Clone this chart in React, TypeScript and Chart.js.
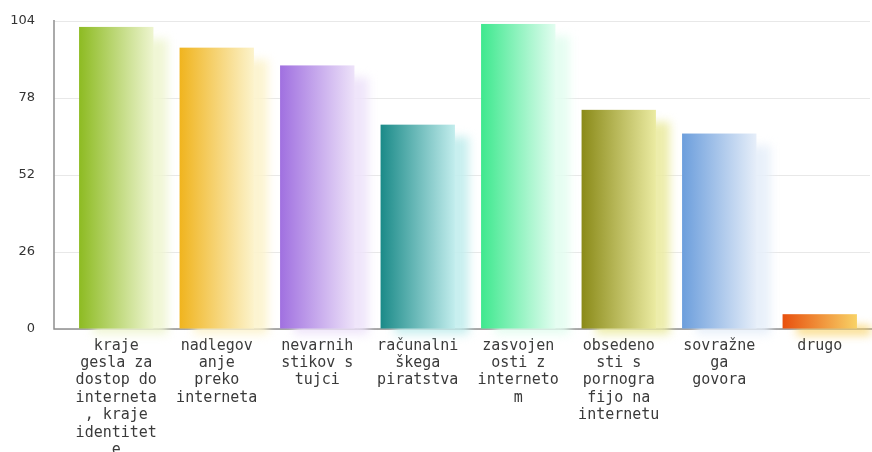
import React, { useEffect, useRef } from "react";
import { Chart, registerables } from "chart.js";

Chart.register(...registerables);

const categories: string[][] = [
  ["kraje", "gesla za", "dostop do", "interneta", ", kraje", "identitet", "e"],
  ["nadlegov", "anje", "preko", "interneta"],
  ["nevarnih", "stikov s", "tujci"],
  ["računalni", "škega", "piratstva"],
  ["zasvojen", "osti z", "interneto", "m"],
  ["obsedeno", "sti s", "pornogra", "fijo na", "internetu"],
  ["sovražne", "ga", "govora"],
  ["drugo"],
];
const values: number[] = [102, 95, 89, 69, 103, 74, 66, 5];
const darkColors: string[] = ["#8dbb22", "#f0b41e", "#a070e0", "#1a8a88", "#3ee88e", "#8a8a18", "#6c9edc", "#e8500e"];
const lightColors: string[] = ["#eef5d0", "#fcf3cc", "#ede2f9", "#c2eded", "#e2fdf0", "#ebeba2", "#e6eef9", "#f8d266"];
const yTicks: number[] = [0, 26, 52, 78, 104];

const barPainter = {
  id: "barPainter",
  beforeDatasetsDraw(chart: any) {
    const ctx = chart.ctx;
    const area = chart.chartArea;
    ctx.save();
    ctx.strokeStyle = "#8e8e8e";
    ctx.lineWidth = 1.5;
    ctx.beginPath();
    ctx.moveTo(54, area.top - 1);
    ctx.lineTo(54, area.bottom);
    ctx.lineTo(chart.width, area.bottom);
    ctx.stroke();
    ctx.restore();
  },
  afterDatasetsDraw(chart: any) {
    const ctx = chart.ctx;
    const meta = chart.getDatasetMeta(0);
    meta.data.forEach((el: any, i: number) => {
      const left = el.x - el.width / 2;
      const right = el.x + el.width / 2;
      const top = el.y;
      const base = el.base;
      ctx.save();
      ctx.filter = "blur(5px)";
      ctx.globalAlpha = 0.9;
      ctx.fillStyle = lightColors[i];
      ctx.fillRect(left + 14, top + 12, right - left, base - top - 6);
      ctx.restore();
      ctx.save();
      const g = ctx.createLinearGradient(left, 0, right, 0);
      g.addColorStop(0, darkColors[i]);
      g.addColorStop(1, lightColors[i]);
      ctx.fillStyle = g;
      ctx.fillRect(left, top, right - left, base - top);
      ctx.restore();
    });
  },
};

export default function App() {
  const ref = useRef<HTMLCanvasElement>(null);
  useEffect(() => {
    if (!ref.current) return;
    const chart = new Chart(ref.current, {
      type: "bar",
      data: {
        labels: categories,
        datasets: [
          {
            data: values,
            backgroundColor: "rgba(0,0,0,0)",
            borderWidth: 0,
            categoryPercentage: 1,
            barPercentage: 0.74,
          },
        ],
      },
      options: {
        animation: false,
        responsive: false,
        maintainAspectRatio: false,
        layout: { padding: { top: 21, right: 2, left: 0, bottom: 0 } },
        plugins: { legend: { display: false }, tooltip: { enabled: false } },
        scales: {
          x: {
            grid: { display: false },
            border: { display: false },
            ticks: {
              autoSkip: false,
              maxRotation: 0,
              minRotation: 0,
              padding: 0,
              color: "#3a3a3a",
              font: { family: "'DejaVu Sans Mono'", size: 15, lineHeight: 1.16 },
            },
            afterFit: (s: any) => {
              s.height = 123;
            },
          },
          y: {
            min: 0,
            max: 104,
            afterBuildTicks: (s: any) => {
              s.ticks = yTicks.map((v) => ({ value: v }));
            },
            grid: { color: "#e8e8e8", lineWidth: 1, tickLength: 12, drawTicks: true },
            border: { display: false },
            ticks: {
              padding: 19,
              color: "#333333",
              font: { family: "'DejaVu Sans'", size: 13 },
            },
            afterFit: (s: any) => {
              s.width = 66;
              s.paddingTop = 0;
              s.paddingBottom = 0;
            },
          },
        },
      },
      plugins: [barPainter],
    });
    return () => chart.destroy();
  }, []);
  return (
    <div style={{ position: "fixed", left: 0, top: 0, width: 872, height: 452, background: "#fff" }}>
      <canvas ref={ref} width={872} height={452} style={{ display: "block", width: 872, height: 452 }} />
    </div>
  );
}
